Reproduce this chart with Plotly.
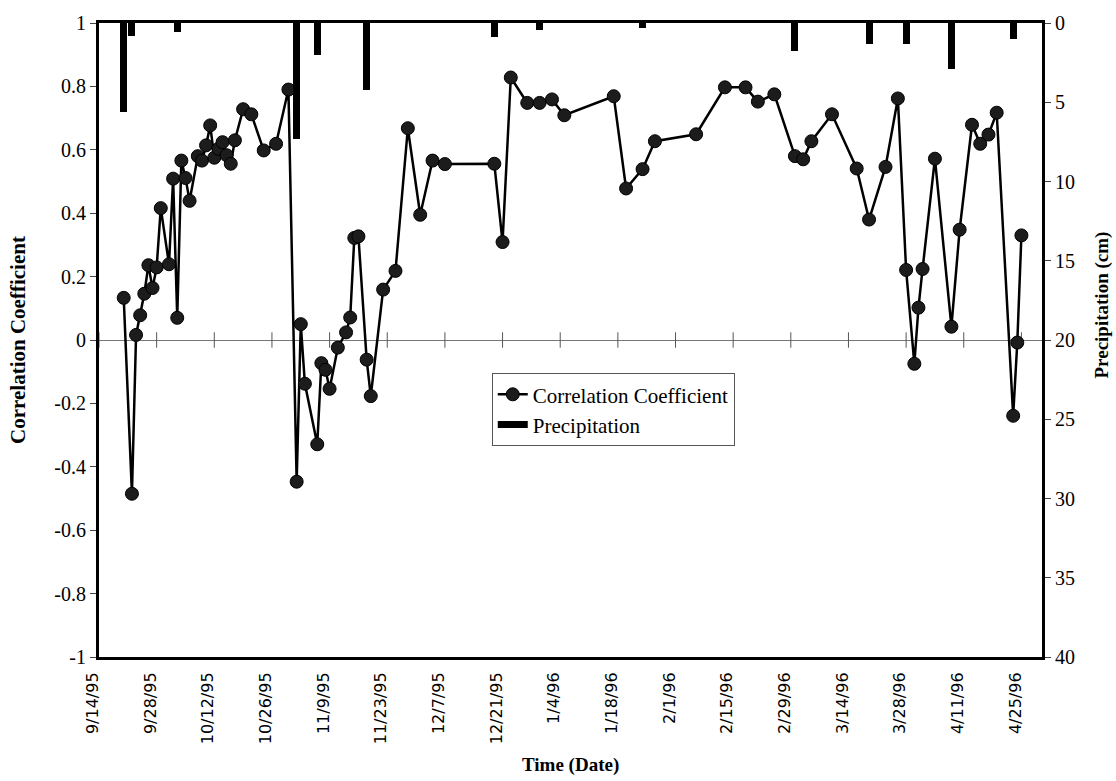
import plotly.graph_objects as go

# Correlation coefficient time series
corr_dates = [
    "1995-09-20", "1995-09-22", "1995-09-23", "1995-09-24", "1995-09-25", "1995-09-26",
    "1995-09-27", "1995-09-28", "1995-09-29", "1995-10-01", "1995-10-02", "1995-10-03",
    "1995-10-04", "1995-10-05", "1995-10-06", "1995-10-08", "1995-10-09", "1995-10-10",
    "1995-10-11", "1995-10-12", "1995-10-13", "1995-10-14", "1995-10-15", "1995-10-16",
    "1995-10-17", "1995-10-19", "1995-10-21", "1995-10-24", "1995-10-27", "1995-10-30",
    "1995-11-01", "1995-11-02", "1995-11-03", "1995-11-06", "1995-11-07", "1995-11-08",
    "1995-11-09", "1995-11-11", "1995-11-13", "1995-11-14", "1995-11-15", "1995-11-16",
    "1995-11-18", "1995-11-19", "1995-11-22", "1995-11-25", "1995-11-28", "1995-12-01",
    "1995-12-04", "1995-12-07", "1995-12-19", "1995-12-21", "1995-12-23", "1995-12-27",
    "1995-12-30", "1996-01-02", "1996-01-05", "1996-01-17", "1996-01-20", "1996-01-24",
    "1996-01-27", "1996-02-06", "1996-02-13", "1996-02-18", "1996-02-21", "1996-02-25",
    "1996-03-01", "1996-03-03", "1996-03-05", "1996-03-10", "1996-03-16", "1996-03-19",
    "1996-03-23", "1996-03-26", "1996-03-28", "1996-03-30", "1996-03-31", "1996-04-01",
    "1996-04-04", "1996-04-08", "1996-04-10", "1996-04-13", "1996-04-15", "1996-04-17",
    "1996-04-19", "1996-04-23", "1996-04-24", "1996-04-25",
]
corr_values = [
    0.133, -0.485, 0.016, 0.078, 0.146, 0.236,
    0.164, 0.229, 0.416, 0.239, 0.509, 0.070,
    0.566, 0.511, 0.439, 0.580, 0.566, 0.614,
    0.677, 0.575, 0.603, 0.624, 0.583, 0.556,
    0.630, 0.728, 0.712, 0.598, 0.619, 0.790,
    -0.447, 0.050, -0.138, -0.329, -0.073, -0.094,
    -0.154, -0.024, 0.024, 0.071, 0.322, 0.327,
    -0.062, -0.177, 0.159, 0.218, 0.668, 0.395,
    0.566, 0.555, 0.556, 0.309, 0.828, 0.748,
    0.748, 0.759, 0.709, 0.769, 0.478, 0.539,
    0.627, 0.649, 0.797, 0.797, 0.752, 0.775,
    0.580, 0.570, 0.627, 0.712, 0.541, 0.380,
    0.546, 0.762, 0.221, -0.075, 0.102, 0.224,
    0.572, 0.042, 0.348, 0.679, 0.619, 0.648,
    0.717, -0.239, -0.008, 0.330,
]

# Precipitation events (cm)
precip_dates = [
    "1995-09-20", "1995-09-22", "1995-10-03", "1995-11-01", "1995-11-06", "1995-11-18",
    "1995-12-19", "1995-12-30", "1996-01-24", "1996-03-01", "1996-03-19", "1996-03-28",
    "1996-04-08", "1996-04-23",
]
precip_values = [5.6, 0.8, 0.55, 7.3, 2.0, 4.2, 0.9, 0.46, 0.3, 1.75, 1.33, 1.33, 2.9, 1.0]

# Axis ticks
x_tick_dates = [
    "1995-09-14", "1995-09-28", "1995-10-12", "1995-10-26", "1995-11-09", "1995-11-23",
    "1995-12-07", "1995-12-21", "1996-01-04", "1996-01-18", "1996-02-01", "1996-02-15",
    "1996-02-29", "1996-03-14", "1996-03-28", "1996-04-11", "1996-04-25",
]
x_tick_labels = [
    "9/14/95", "9/28/95", "10/12/95", "10/26/95", "11/9/95", "11/23/95", "12/7/95",
    "12/21/95", "1/4/96", "1/18/96", "2/1/96", "2/15/96", "2/29/96", "3/14/96",
    "3/28/96", "4/11/96", "4/25/96",
]
y_tick_vals = [1, 0.8, 0.6, 0.4, 0.2, 0, -0.2, -0.4, -0.6, -0.8, -1]
y_tick_labels = ["1", "0.8", "0.6", "0.4", "0.2", "0", "-0.2", "-0.4", "-0.6", "-0.8", "-1"]
y2_tick_vals = [0, 5, 10, 15, 20, 25, 30, 35, 40]

SERIF = "Liberation Serif"
DAY_MS = 86400000

fig = go.Figure()

# tick marks crossing the zero line
fig.add_trace(go.Scatter(
    x=x_tick_dates, y=[0] * len(x_tick_dates), mode="markers",
    marker=dict(symbol="line-ns", size=11, line=dict(color="#555", width=1)),
    showlegend=False, hoverinfo="skip",
))

fig.add_trace(go.Scatter(
    x=corr_dates, y=corr_values, mode="lines+markers", name="Correlation Coefficient",
    line=dict(color="black", width=2.5),
    marker=dict(symbol="circle", size=13, color="#1c1c1c", line=dict(color="black", width=1)),
))

fig.add_trace(go.Bar(
    x=precip_dates, y=precip_values, base=0, yaxis="y2",
    width=1.7 * DAY_MS, marker=dict(color="black", line=dict(width=0)),
    name="Precipitation", legendgroup="precip", showlegend=False,
))

# legend key for the precipitation bars
fig.add_trace(go.Scatter(
    x=[None], y=[None], mode="lines", name="Precipitation", legendgroup="precip",
    line=dict(color="black", width=7),
))

fig.update_layout(
    width=1116, height=781,
    margin=dict(l=99, r=74, t=16, b=124),
    paper_bgcolor="white", plot_bgcolor="white",
    font=dict(family=SERIF, color="black", size=18),
    bargap=0,
    xaxis=dict(
        type="date", range=["1995-09-14", "1996-04-30"],
        tickvals=x_tick_dates, ticktext=x_tick_labels, tickangle=-90,
        tickfont=dict(family="DejaVu Sans", size=16),
        ticks="", ticklabelshift=-6, ticklabelstandoff=6,
        showgrid=False, zeroline=False,
        showline=True, linecolor="black", linewidth=3, mirror=True,
    ),
    yaxis=dict(
        range=[-1, 1], tickvals=y_tick_vals, ticktext=y_tick_labels,
        tickfont=dict(family=SERIF, size=20),
        ticks="outside", ticklen=6, tickcolor="#444", tickwidth=1,
        showgrid=False, zeroline=True, zerolinecolor="#777", zerolinewidth=1,
        showline=True, linecolor="black", linewidth=3,
    ),
    yaxis2=dict(
        range=[40, 0], overlaying="y", side="right",
        tickvals=y2_tick_vals, tickfont=dict(family=SERIF, size=20),
        ticks="outside", ticklen=6, tickcolor="#444", tickwidth=1,
        showgrid=False, zeroline=False,
        showline=True, linecolor="black", linewidth=3,
    ),
    legend=dict(
        x=0.4165, y=0.4477, xanchor="left", yanchor="top",
        bgcolor="white", bordercolor="#555", borderwidth=1,
        font=dict(family=SERIF, size=21), tracegroupgap=0,
        itemwidth=30,
    ),
    annotations=[
        dict(text="<b>Time (Date)</b>", xref="paper", yref="paper", x=0.5, y=-0.170,
             xanchor="center", yanchor="middle", showarrow=False,
             font=dict(family=SERIF, size=19)),
        dict(text="<b>Correlation Coefficient</b>", xref="paper", yref="paper",
             x=-0.086, y=0.5, xanchor="center", yanchor="middle", textangle=-90,
             showarrow=False, font=dict(family=SERIF, size=21)),
        dict(text="<b>Precipitation (cm)</b>", xref="paper", yref="paper",
             x=1.064, y=0.555, xanchor="center", yanchor="middle", textangle=-90,
             showarrow=False, font=dict(family=SERIF, size=19)),
    ],
)

fig.write_html("out.html")
